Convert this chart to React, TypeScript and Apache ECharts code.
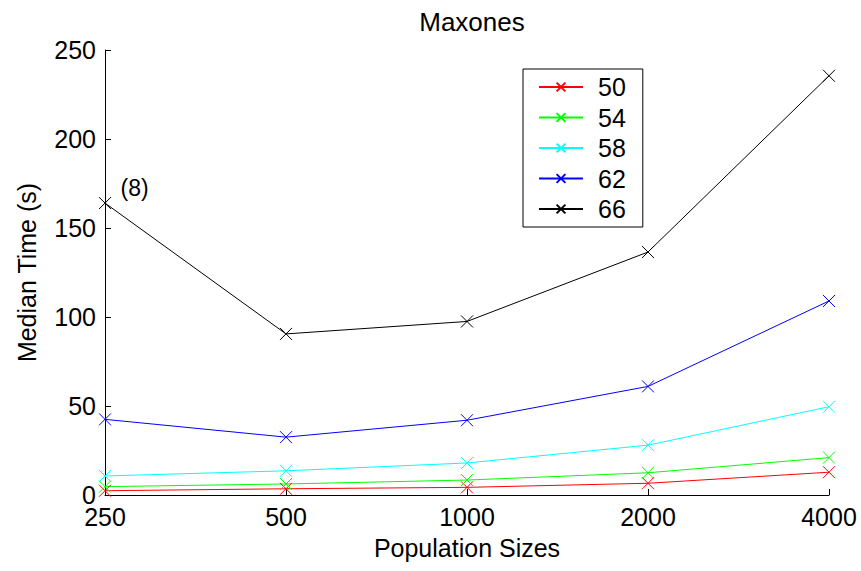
import React, { useEffect, useRef } from "react";
import * as echarts from "echarts";

const categories = ["250", "500", "1000", "2000", "4000"];
const seriesNames = ["50", "54", "58", "62", "66"];
const s50 = [2.4, 3.5, 4.3, 6.6, 12.8];
const s54 = [4.7, 6.2, 8.4, 12.5, 21];
const s58 = [10.7, 13.6, 18, 28, 49.6];
const s62 = [42.5, 32.5, 42, 61, 109];
const s66 = [164, 90.5, 97.5, 136.5, 235.5];
const seriesColors = ["#ff0000", "#00ff00", "#00ffff", "#0000ff", "#000000"];
const annotationText = "(8)";

const FONT = "Liberation Sans, Arial, Helvetica, sans-serif";
const FS = 25;
const XSYM = "path://M0,0L10,10M10,0L0,10";

export default function App() {
  const ref = useRef<HTMLDivElement>(null);
  useEffect(() => {
    const chart = echarts.init(ref.current!, null, { renderer: "svg" });
    const all = [s50, s54, s58, s62, s66];
    const series = all.map((vals, i) => ({
      name: seriesNames[i],
      type: "line",
      data: vals.map((v, j) =>
        i === 4 && j === 0
          ? {
              value: v,
              label: {
                show: true,
                formatter: annotationText,
                position: "right",
                distance: 7,
                offset: [0, -15],
                color: "#000",
                fontSize: FS - 2,
                fontFamily: FONT,
              },
            }
          : v
      ),
      symbol: XSYM,
      symbolSize: 12,
      showSymbol: true,
      lineStyle: { color: seriesColors[i], width: 1 },
      itemStyle: { color: "none", borderColor: seriesColors[i], borderWidth: 1 },
      emphasis: { disabled: true },
    }));
    chart.setOption({
      animation: false,
      backgroundColor: "#ffffff",
      title: {
        text: "Maxones",
        left: 467,
        textAlign: "center",
        top: 4,
        textStyle: { fontSize: 26, fontWeight: "normal", color: "#000", fontFamily: FONT },
      },
      legend: {
        orient: "vertical",
        left: 523,
        top: 69,
        data: seriesNames,
        itemWidth: 44,
        itemHeight: 11,
        itemGap: 5.5,
        padding: [5.5, 17, 5.5, 15],
        borderColor: "#000",
        borderWidth: 1,
        backgroundColor: "#fff",
        textStyle: { fontSize: FS, color: "#000", fontFamily: FONT, lineHeight: 25, padding: [0, 0, 0, 10] },
        selectedMode: false,
      },
      grid: { left: 105, right: 32, top: 50, bottom: 76 },
      xAxis: {
        type: "category",
        data: categories,
        boundaryGap: false,
        name: "Population Sizes",
        nameLocation: "middle",
        nameGap: 40,
        nameTextStyle: { fontSize: FS, color: "#000", fontFamily: FONT },
        axisLine: { lineStyle: { color: "#000", width: 1 } },
        axisTick: { inside: true, length: 6, lineStyle: { color: "#000" } },
        axisLabel: { fontSize: FS, lineHeight: 20, color: "#000", fontFamily: FONT, margin: 12 },
        splitLine: { show: false },
      },
      yAxis: {
        type: "value",
        min: 0,
        max: 250,
        interval: 50,
        name: "Median Time (s)",
        nameLocation: "middle",
        nameGap: 66,
        nameTextStyle: { fontSize: FS, color: "#000", fontFamily: FONT },
        axisLine: { show: true, lineStyle: { color: "#000", width: 1 } },
        axisTick: { show: true, inside: true, length: 6, lineStyle: { color: "#000" } },
        axisLabel: { fontSize: FS, lineHeight: 20, color: "#000", fontFamily: FONT, margin: 9 },
        splitLine: { show: false },
      },
      series,
    });
    return () => chart.dispose();
  }, []);
  return <div ref={ref} style={{ width: 861, height: 571, position: "absolute", left: 0, top: 0 }} />;
}
